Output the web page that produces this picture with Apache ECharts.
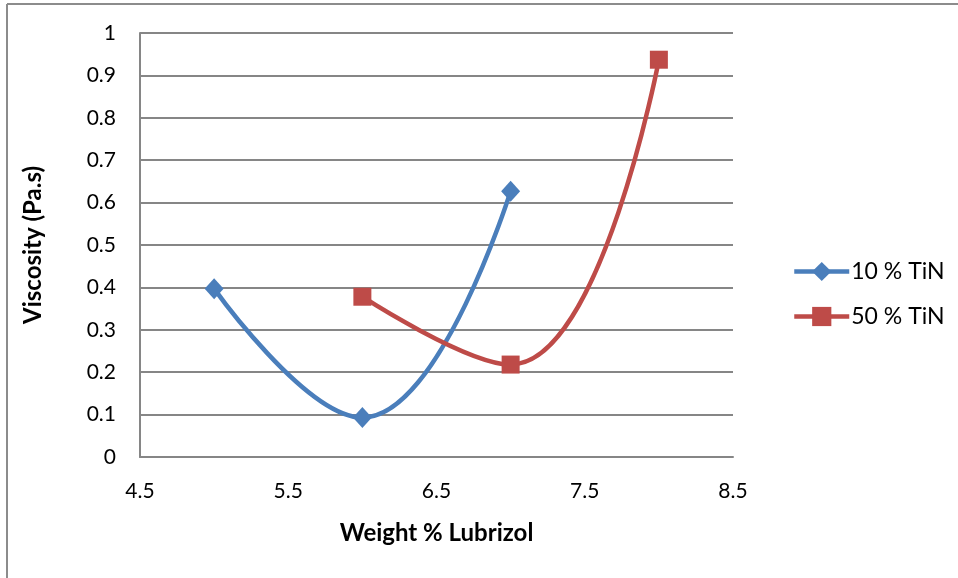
<!DOCTYPE html>
<html>
<head>
<meta charset="utf-8">
<script src="https://cdn.jsdelivr.net/npm/echarts@6/dist/echarts.min.js"></script>
<style>
  html, body { margin: 0; padding: 0; background: #fff; }
  #chart { width: 958px; height: 578px; }
</style>
</head>
<body>
<div id="chart"></div>
<script>
// Weight % Lubrizol values for each series
const lubrizol10 = [5, 6, 7];
const viscosity10 = [0.397, 0.093, 0.627];
const lubrizol50 = [6, 7, 8];
const viscosity50 = [0.378, 0.218, 0.937];
const seriesNames = ['10 % TiN', '50 % TiN'];
const xTitle = 'Weight % Lubrizol';
const yTitle = 'Viscosity (Pa.s)';

const font = 'Lato, "Open Sans", sans-serif';
const blue = '#4A7EBB';
const red = '#BE4B48';

const chart = echarts.init(document.getElementById('chart'), null, { renderer: 'canvas' });

const pairs = (xs, ys) => xs.map((x, i) => [x, ys[i]]);

chart.setOption({
  animation: false,
  backgroundColor: '#fff',
  grid: { left: 140, right: 225, top: 33, bottom: 121 },
  graphic: [
    { type: 'line', shape: { x1: 7, y1: 4, x2: 7, y2: 578 }, style: { stroke: '#8c8c8c', lineWidth: 2 } },
    { type: 'line', shape: { x1: 7, y1: 4, x2: 958, y2: 4 }, style: { stroke: '#8c8c8c', lineWidth: 2 } }
  ],
  legend: {
    orient: 'vertical',
    left: 787,
    top: 255,
    itemGap: 22,
    itemWidth: 55,
    itemHeight: 24,
    lineStyle: { width: 4.5 },
    textStyle: { fontFamily: font, fontSize: 23, color: '#000', padding: [0, 0, 0, -3] },
    data: [seriesNames[0], seriesNames[1]]
  },
  xAxis: {
    type: 'value',
    min: 4.5,
    max: 8.5,
    interval: 1,
    name: xTitle,
    nameLocation: 'middle',
    nameGap: 64,
    nameTextStyle: { fontFamily: font, fontSize: 24, fontWeight: 'bold', color: '#000' },
    axisLine: { show: true, onZero: false, lineStyle: { color: '#868686', width: 2 } },
    axisTick: { show: false },
    splitLine: { show: false },
    axisLabel: { fontFamily: font, fontSize: 21, color: '#000', margin: 24,
      formatter: v => v.toFixed(1) }
  },
  yAxis: {
    type: 'value',
    min: 0,
    max: 1,
    interval: 0.1,
    name: yTitle,
    nameLocation: 'middle',
    nameGap: 95,
    nameRotate: 90,
    nameTextStyle: { fontFamily: font, fontSize: 24, fontWeight: 'bold', color: '#000' },
    axisLine: { show: true, lineStyle: { color: '#868686', width: 2 } },
    axisTick: { show: false },
    splitLine: { show: true, lineStyle: { color: '#868686', width: 2 } },
    axisLabel: { fontFamily: font, fontSize: 21, color: '#000', margin: 24,
      formatter: v => (Math.round(v * 10) / 10).toString() }
  },
  series: [
    {
      name: seriesNames[0],
      type: 'line',
      smooth: 0.45,
      data: pairs(lubrizol10, viscosity10),
      symbol: 'diamond',
      symbolSize: [19, 21],
      lineStyle: { color: blue, width: 4.5 },
      itemStyle: { color: blue }
    },
    {
      name: seriesNames[1],
      type: 'line',
      smooth: 0.45,
      data: pairs(lubrizol50, viscosity50),
      symbol: 'rect',
      symbolSize: 18,
      lineStyle: { color: red, width: 4.5 },
      itemStyle: { color: red }
    }
  ]
});
</script>
</body>
</html>
